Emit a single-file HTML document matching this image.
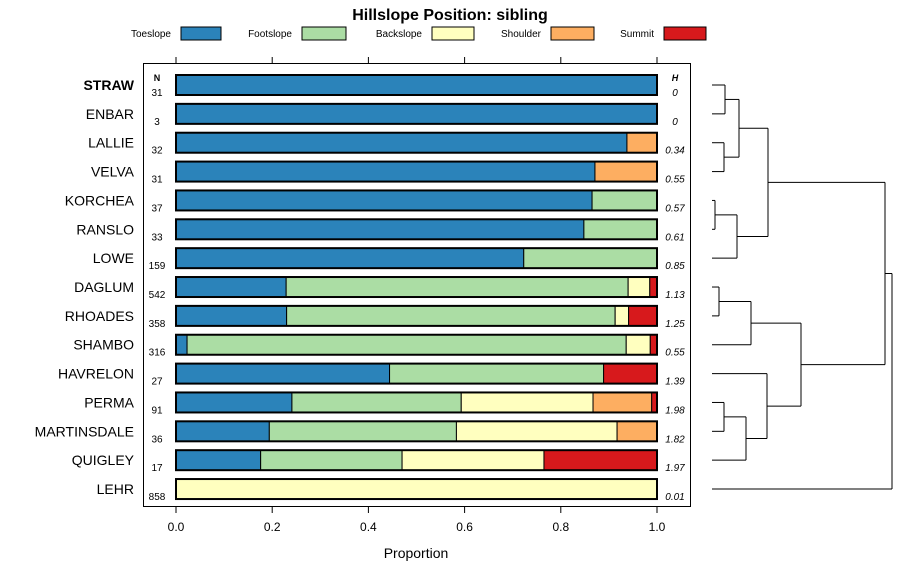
<!DOCTYPE html>
<html><head><meta charset="utf-8"><style>
body{margin:0;background:#fff;}
svg text{font-family:"Liberation Sans",sans-serif;}
</style></head><body>
<svg id="c" width="900" height="580" xmlns="http://www.w3.org/2000/svg"></svg>
<script>
const soils=["STRAW","ENBAR","LALLIE","VELVA","KORCHEA","RANSLO","LOWE","DAGLUM","RHOADES","SHAMBO","HAVRELON","PERMA","MARTINSDALE","QUIGLEY","LEHR"];
const nVals=[31,3,32,31,37,33,159,542,358,316,27,91,36,17,858];
const hVals=["0","0","0.34","0.55","0.57","0.61","0.85","1.13","1.25","0.55","1.39","1.98","1.82","1.97","0.01"];
const toeslope=[1,1,0.9375,0.871,0.865,0.848,0.723,0.229,0.23,0.023,0.444,0.241,0.194,0.176,0];
const footslope=[0,0,0,0,0.135,0.152,0.277,0.711,0.683,0.913,0.445,0.352,0.389,0.294,0];
const backslope=[0,0,0,0,0,0,0,0.045,0.028,0.05,0,0.274,0.334,0.295,0.999];
const shoulder=[0,0,0.0625,0.129,0,0,0,0,0,0,0,0.122,0.083,0,0];
const summit=[0,0,0,0,0,0,0,0.015,0.059,0.014,0.111,0.011,0,0.235,0.001];
const classes=["Toeslope","Footslope","Backslope","Shoulder","Summit"];
const colors=["#2b83ba","#abdda4","#ffffbf","#fdae61","#d7191c"];
const xTicks=[0,0.2,0.4,0.6,0.8,1.0];
const NS="http://www.w3.org/2000/svg";
const svg=document.getElementById('c');
function el(t,a,txt){const e=document.createElementNS(NS,t);for(const k in a)e.setAttribute(k,a[k]);if(txt!==undefined)e.textContent=txt;svg.appendChild(e);return e;}
const xs=p=>176+p*481;
const ys=i=>85+i*28.86;
let t=el('text',{x:450,y:20,'text-anchor':'middle','font-size':16,'font-weight':'bold'},'Hillslope Position: sibling');


const legBox=[181,302,432,551,664],legW=[40,44,42,43,42];
classes.forEach((c,k)=>{
 let l=el('text',{x:legBox[k]-10,y:37,'text-anchor':'end','font-size':10},c);
 
 
 let r=el('rect',{x:legBox[k],y:27,width:legW[k],height:13,fill:colors[k],stroke:'#000','stroke-width':1});
 
 
});
let pnl=el('rect',{x:143.5,y:63.5,width:547,height:443,fill:'none',stroke:'#000','stroke-width':1});


xTicks.forEach(v=>{
 el('line',{x1:xs(v),x2:xs(v),y1:63,y2:57,stroke:'#000'});
 el('line',{x1:xs(v),x2:xs(v),y1:507,y2:513,stroke:'#000'});
 let tl=el('text',{x:xs(v),y:531,'text-anchor':'middle','font-size':12},v.toFixed(1));
 
 
});
let xt=el('text',{x:416,y:558,'text-anchor':'middle','font-size':14},'Proportion');


let nh=el('text',{x:157,y:81,'text-anchor':'middle','font-size':9,'font-weight':'bold'},'N');


let hh=el('text',{x:675,y:81,'text-anchor':'middle','font-size':9,'font-weight':'bold','font-style':'italic'},'H');


const series=[toeslope,footslope,backslope,shoulder,summit];
soils.forEach((s,i)=>{
 const cy=ys(i);
 let lb=el('text',{x:134,y:cy+5,'text-anchor':'end','font-size':14,'font-weight':i===0?'bold':'normal'},s);
 
 
 let nt=el('text',{x:157,y:cy+11,'text-anchor':'middle','font-size':10},nVals[i]);
 
 
 let ht=el('text',{x:675,y:cy+11,'text-anchor':'middle','font-size':10,'font-style':'italic'},hVals[i]);
 
 
 let acc=0;
 series.forEach((ser,k)=>{
  const v=ser[i];if(v<=0)return;
  let r=el('rect',{x:xs(acc),y:cy-10,width:xs(acc+v)-xs(acc),height:20,fill:colors[k],stroke:'#000','stroke-width':1});
  
  
  acc+=v;
 });
 let o=el('rect',{x:xs(0),y:cy-10,width:481,height:20,fill:'none',stroke:'#000','stroke-width':2});
 
 
});
function seg(ax,ay,bx,by){let l=el('line',{x1:ax,y1:ay,x2:bx,y2:by,stroke:'#000','stroke-width':1});

}
function merge(ya,xa,yb,xb,h){seg(xa,ya,h,ya);seg(xb,yb,h,yb);seg(h,ya,h,yb);return (ya+yb)/2;}
const L=712;
const gA=merge(ys(0),L,ys(1),L,725);
const gB=merge(ys(2),L,ys(3),L,724);
const gAB=merge(gA,725,gB,724,739);
const gC=merge(ys(4),L,ys(5),L,715);
const gC2=merge(gC,715,ys(6),L,737);
const upperGroup=merge(gAB,739,gC2,737,768);
const gD=merge(ys(7),L,ys(8),L,719);
const gD2=merge(gD,719,ys(9),L,751);
const gE=merge(ys(11),L,ys(12),L,724);
const gE2=merge(gE,724,ys(13),L,746);
const gE3=merge(ys(10),L,gE2,746,767);
const gDE=merge(gD2,751,gE3,767,801);
const gAll=merge(upperGroup,768,gDE,801,885);
merge(gAll,885,ys(14),L,892);
</script>
</body></html>
